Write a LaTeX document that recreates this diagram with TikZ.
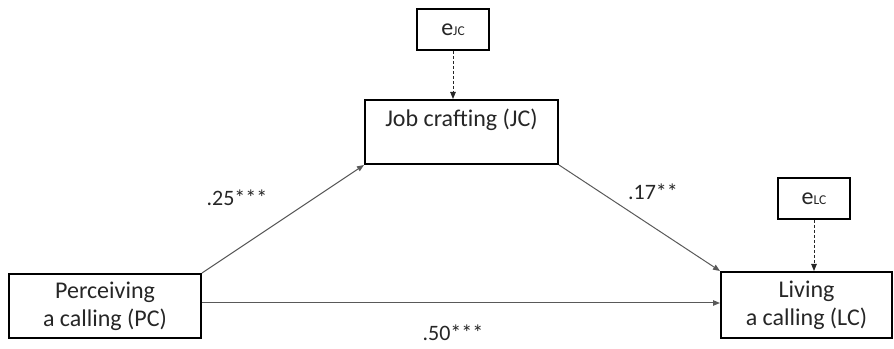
\documentclass[tikz,border=0pt]{standalone}
\usepackage{fontspec}
\setmainfont{Carlito}
\usetikzlibrary{arrows.meta}
\begin{document}
\begin{tikzpicture}[x=1pt,y=1pt,
  box/.style={draw=black,line width=2pt,rectangle,align=center,inner sep=0pt,
    font=\fontsize{24}{28}\selectfont,text=black!85},
  path/.style={draw=black!65,line width=1pt,-{Triangle[length=7pt,width=5.5pt]}},
  err/.style={draw=black!85,line width=0.9pt,dashed,dash pattern=on 3pt off 2pt,-{Triangle[length=7pt,width=5.5pt]}},
  lab/.style={font=\fontsize{22}{26}\selectfont,text=black!85}]
\useasboundingbox (0,0) rectangle (894,348);
\node[box,minimum width=72pt,minimum height=41pt] (eJC) at (453,318.5) {e{\fontsize{13.5}{14}\selectfont JC}};
\node[box,minimum width=193pt,minimum height=64pt] (JC) at (461.5,216) {Job crafting (JC)\\\mbox{}};
\node[box,minimum width=192pt,minimum height=64pt] (PC) at (105,42) {Perceiving\\a calling (PC)};
\node[box,minimum width=171pt,minimum height=66pt] (LC) at (806.5,43) {Living\\a calling (LC)};
\node[box,minimum width=72pt,minimum height=41pt] (eLC) at (814,149.5) {e{\fontsize{13.5}{14}\selectfont LC}};
\draw[err] (eJC.south) -- (eJC.south |- JC.north);
\draw[err] (eLC.south) -- (eLC.south |- LC.north);
\draw[path] (PC.north east) -- (JC.south west);
\draw[path] (JC.south east) -- (LC.north west);
\draw[path] ([yshift=3pt]PC.east) -- ([yshift=3pt]PC.east -| LC.west);
\node[lab] (l1) at (237,150) {.25***};
\node[lab] (l2) at (653,156) {.17**};
\node[lab] (l3) at (453,15) {.50***};
\end{tikzpicture}
\end{document}
